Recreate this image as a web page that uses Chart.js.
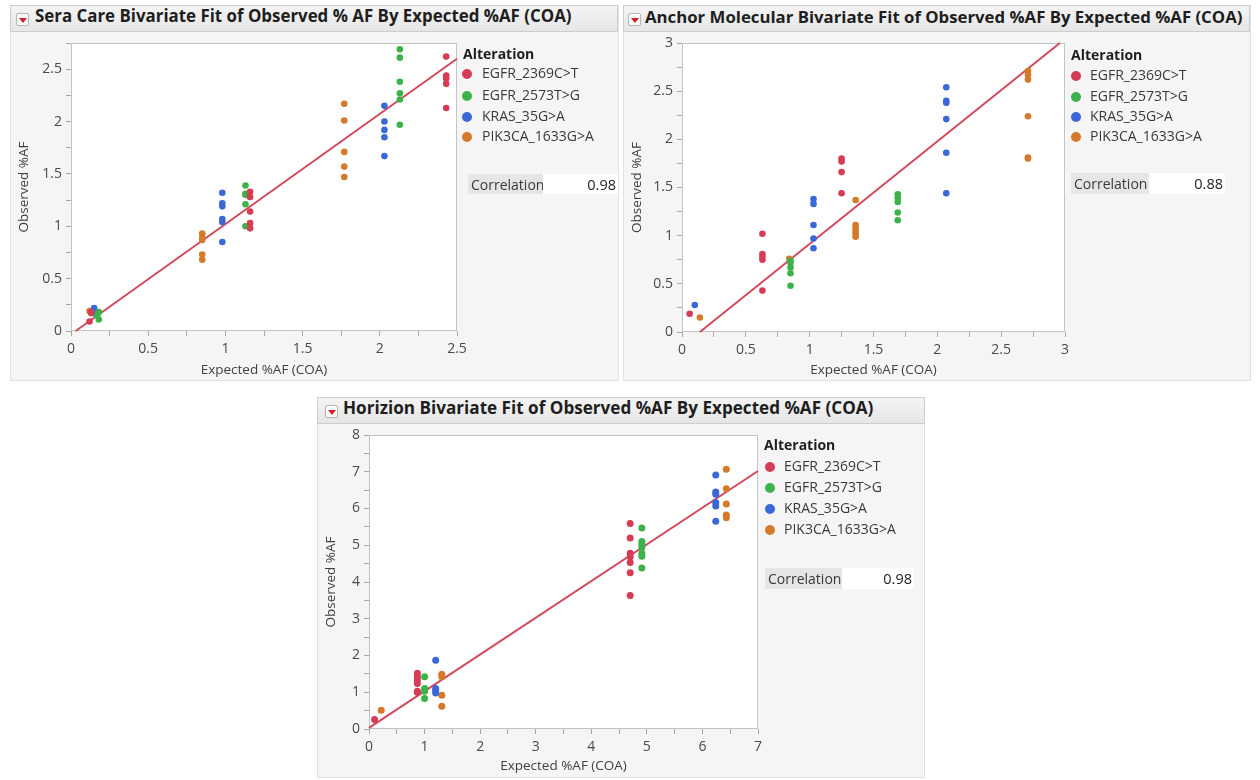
<!DOCTYPE html>
<html><head><meta charset="utf-8">
<script src="https://cdn.jsdelivr.net/npm/chart.js@4.4.1/dist/chart.umd.min.js"></script>
<style>
body{margin:0;background:#fff;width:1260px;height:780px;position:relative;overflow:hidden;font-family:"Open Sans","Noto Sans",sans-serif;}
.panel{position:absolute;background:#f5f5f5;box-sizing:border-box;border:1px solid #e2e2e2;}
.tbar{position:absolute;background:linear-gradient(#f4f4f4,#e6e6e6);border:1px solid #cdcdcd;box-sizing:border-box;}
.ttl{position:absolute;font-weight:bold;color:#1e1e1e;white-space:nowrap;line-height:1;}
.icon{position:absolute;width:13px;height:13px;background:#fafafa;border:1px solid #b5b5b5;box-sizing:border-box;border-radius:2px;}
.icon:after{content:"";position:absolute;left:2px;top:4px;border-left:4px solid transparent;border-right:4px solid transparent;border-top:5px solid #d21f2b;}
canvas{position:absolute;}
.txt{position:absolute;font-size:14px;color:#3a3a3a;white-space:nowrap;line-height:1;}
.hdr{font-weight:bold;color:#1e1e1e;font-size:14px;}
.dot{position:absolute;width:10px;height:10px;border-radius:50%;}
.clab{position:absolute;background:#e6e6e6;font-size:14px;color:#3a3a3a;box-sizing:border-box;padding-left:3px;display:flex;align-items:center;}
.cval{position:absolute;background:#fff;font-size:14.5px;color:#222;box-sizing:border-box;display:flex;align-items:center;justify-content:flex-end;padding-right:2px;}
</style>
</head><body>
<script>
// ---------- DATA ----------
const categories = ['EGFR_2369C>T', 'EGFR_2573T>G', 'KRAS_35G>A', 'PIK3CA_1633G>A'];

// Sera Care panel
const seraEGFR2369 = [[0.12,0.09],[0.13,0.18],[1.16,1.33],[1.16,1.28],[1.16,1.14],[1.16,1.03],[1.16,0.98],[2.43,2.62],[2.43,2.44],[2.43,2.41],[2.43,2.36],[2.43,2.13]];
const seraEGFR2573 = [[0.18,0.18],[0.18,0.11],[0.17,0.15],[1.13,1.39],[1.13,1.31],[1.13,1.30],[1.13,1.21],[1.13,1.00],[2.13,2.69],[2.13,2.61],[2.13,2.38],[2.13,2.27],[2.13,2.21],[2.13,1.97]];
const seraKRAS35 = [[0.15,0.22],[0.15,0.20],[0.15,0.17],[0.98,1.32],[0.98,1.22],[0.98,1.19],[0.98,1.07],[0.98,1.04],[0.98,0.85],[2.03,2.15],[2.03,2.00],[2.03,1.92],[2.03,1.85],[2.03,1.67]];
const seraPIK3CA = [[0.12,0.19],[0.13,0.17],[0.85,0.93],[0.85,0.89],[0.85,0.87],[0.85,0.73],[0.85,0.68],[1.77,2.17],[1.77,2.01],[1.77,1.71],[1.77,1.57],[1.77,1.47]];
const seraFit = [[0.03,0],[2.5,2.6]];
const seraCorrelation = '0.98';
const seraXTickLabels = ['0','0.5','1','1.5','2','2.5'];
const seraYTickLabels = ['0','0.5','1','1.5','2','2.5'];

// Anchor Molecular panel
const anchorEGFR2369 = [[0.06,0.19],[0.63,1.02],[0.63,0.81],[0.63,0.78],[0.63,0.75],[0.63,0.43],[1.25,1.80],[1.25,1.77],[1.25,1.66],[1.25,1.44]];
const anchorEGFR2573 = [[0.85,0.74],[0.85,0.72],[0.85,0.67],[0.85,0.61],[0.85,0.48],[1.69,1.43],[1.69,1.39],[1.69,1.35],[1.69,1.24],[1.69,1.16]];
const anchorKRAS35 = [[0.10,0.28],[1.03,1.38],[1.03,1.33],[1.03,1.11],[1.03,0.97],[1.03,0.87],[2.07,2.54],[2.07,2.40],[2.07,2.38],[2.07,2.21],[2.07,1.86],[2.07,1.44]];
const anchorPIK3CA = [[0.14,0.15],[0.84,0.76],[1.36,1.37],[1.36,1.11],[1.36,1.08],[1.36,1.05],[1.36,1.02],[1.36,0.99],[2.71,2.71],[2.71,2.67],[2.71,2.62],[2.71,2.24],[2.71,1.81],[2.71,1.80]];
const anchorFit = [[0.14,0],[2.96,3.0]];
const anchorCorrelation = '0.88';
const anchorXTickLabels = ['0','0.5','1','1.5','2','2.5','3'];
const anchorYTickLabels = ['0','0.5','1','1.5','2','2.5','3'];

// Horizion panel
const horizEGFR2369 = [[0.10,0.26],[0.87,1.52],[0.87,1.42],[0.87,1.33],[0.87,1.24],[0.87,1.03],[0.87,1.00],[4.70,5.59],[4.70,5.20],[4.70,4.78],[4.70,4.69],[4.70,4.53],[4.70,4.25],[4.70,3.63]];
const horizEGFR2573 = [[1.00,1.42],[1.00,1.10],[1.00,1.03],[1.00,0.83],[4.91,5.47],[4.91,5.10],[4.91,5.03],[4.91,4.94],[4.91,4.78],[4.91,4.70],[4.91,4.38]];
const horizKRAS35 = [[1.20,1.87],[1.20,1.10],[1.20,1.04],[1.20,0.98],[6.24,6.91],[6.24,6.45],[6.24,6.39],[6.24,6.16],[6.24,6.07],[6.24,5.65]];
const horizPIK3CA = [[0.22,0.51],[1.31,1.49],[1.31,1.42],[1.31,0.92],[1.31,0.62],[6.43,7.07],[6.43,6.54],[6.43,6.12],[6.43,5.82],[6.43,5.75]];
const horizFit = [[0,0.03],[7,7.02]];
const horizCorrelation = '0.98';
const horizXTickLabels = ['0','1','2','3','4','5','6','7'];
const horizYTickLabels = ['0','1','2','3','4','5','6','7','8'];

// ---------- STYLE / LAYOUT ----------
const seriesColors = ['#d63c55', '#3cb34a', '#3b68d8', '#d5792a'];
const fitColor = '#d4485c';

const panels = [
  { title:'Sera Care Bivariate Fit of Observed % AF By Expected %AF (COA)',
    box:[10,5,609,376], bar:[10,5,608,27], icon:[16,13], titleX:35, titleCY:19, titleW:537,
    canvas:[14,35,464,345], yW:57, xH:49, padR:21, padT:8,
    x:[0,2.5,0.25], y:[0,2.75,0.25], xl:seraXTickLabels, yl:seraYTickLabels,
    series:[seraEGFR2369,seraEGFR2573,seraKRAS35,seraPIK3CA], fit:seraFit, r:3.3,
    leg:{x:463, hy:55, dx:467, tx:482, ys:[74,96,117,137]},
    corr:{x:468, y:174, lw:75, vw:75, h:20, v:seraCorrelation} },
  { title:'Anchor Molecular Bivariate Fit of Observed %AF By Expected %AF (COA)',
    box:[623,5,628,376], bar:[623,5,627,27], icon:[628,13], titleX:645, titleCY:20, titleW:598,
    canvas:[627,35,445,345], yW:55, xH:48, padR:7, padT:8,
    x:[0,3,0.25], y:[0,3,0.25], xl:anchorXTickLabels, yl:anchorYTickLabels,
    series:[anchorEGFR2369,anchorEGFR2573,anchorKRAS35,anchorPIK3CA], fit:anchorFit, r:3.3,
    leg:{x:1071, hy:56, dx:1076, tx:1090, ys:[76,97,117,137]},
    corr:{x:1071, y:173, lw:78, vw:76, h:21, v:anchorCorrelation} },
  { title:'Horizion Bivariate Fit of Observed %AF By Expected %AF (COA)',
    box:[317,397,608,381], bar:[317,397,608,27], icon:[325,405], titleX:343, titleCY:411, titleW:531,
    canvas:[321,427,444,349], yW:48, xH:47, padR:7, padT:8,
    x:[0,7,0.5], y:[0,8,0.5], xl:horizXTickLabels, yl:horizYTickLabels,
    series:[horizEGFR2369,horizEGFR2573,horizKRAS35,horizPIK3CA], fit:horizFit, r:3.5,
    leg:{x:764, hy:446, dx:770, tx:784, ys:[467,488,509,530]},
    corr:{x:765, y:568, lw:77, vw:72, h:21, v:horizCorrelation} }
];

function el(tag, cls, css, text){
  const e=document.createElement(tag); if(cls) e.className=cls;
  Object.assign(e.style, css||{}); if(text!==undefined) e.textContent=text;
  document.body.appendChild(e); return e;
}
const mctx=document.createElement('canvas').getContext('2d');
const FONT='"Open Sans","Noto Sans",sans-serif';

function tickLabel(v, labels){
  for(const s of labels){ if(Math.abs(parseFloat(s)-v)<1e-6) return s; }
  return '';
}

const framePlugin = {
  id:'frame',
  beforeDraw(chart){
    const a=chart.chartArea, c=chart.ctx;
    c.save(); c.fillStyle='#ffffff'; c.fillRect(a.left,a.top,a.right-a.left,a.bottom-a.top); c.restore();
  },
  beforeDatasetsDraw(chart){
    const a=chart.chartArea, c=chart.ctx;
    c.save(); c.strokeStyle='#c4c4c4'; c.lineWidth=1;
    c.strokeRect(Math.round(a.left)+0.5,Math.round(a.top)+0.5,Math.round(a.right-a.left)-1,Math.round(a.bottom-a.top)-1);
    c.restore();
  }
};

panels.forEach(p=>{
  el('div','panel',{left:p.box[0]+'px',top:p.box[1]+'px',width:p.box[2]+'px',height:p.box[3]+'px'});
  el('div','tbar',{left:p.bar[0]+'px',top:p.bar[1]+'px',width:p.bar[2]+'px',height:p.bar[3]+'px'});
  el('div','icon',{left:p.icon[0]+'px',top:p.icon[1]+'px'});
  mctx.font='bold 15px '+FONT;
  const w=mctx.measureText(p.title).width;
  const fs=15*p.titleW/w;
  el('div','ttl',{left:p.titleX+'px',top:(p.titleCY-fs*0.68)+'px',fontSize:fs+'px',fontFamily:FONT},p.title);

  const cv=el('canvas','',{left:p.canvas[0]+'px',top:p.canvas[1]+'px',width:p.canvas[2]+'px',height:p.canvas[3]+'px'});
  cv.width=p.canvas[2]; cv.height=p.canvas[3];

  // legend (on top of canvas)
  el('div','txt hdr',{left:p.leg.x+'px',top:(p.leg.hy-8)+'px'},'Alteration');
  categories.forEach((c,i)=>{
    el('div','dot',{left:(p.leg.dx-5)+'px',top:(p.leg.ys[i]-5)+'px',background:seriesColors[i]});
    el('div','txt',{left:p.leg.tx+'px',top:(p.leg.ys[i]-8)+'px'},c);
  });
  el('div','clab',{left:p.corr.x+'px',top:p.corr.y+'px',width:p.corr.lw+'px',height:p.corr.h+'px'},'Correlation');
  el('div','cval',{left:(p.corr.x+p.corr.lw)+'px',top:p.corr.y+'px',width:p.corr.vw+'px',height:p.corr.h+'px'},p.corr.v);

  const datasets = p.series.map((s,i)=>({
    label:categories[i], type:'scatter',
    data:s.map(d=>({x:d[0],y:d[1]})),
    backgroundColor:seriesColors[i], borderColor:seriesColors[i], borderWidth:0,
    pointRadius:p.r, pointHoverRadius:p.r, order:1
  }));
  datasets.push({label:'fit', type:'line', data:p.fit.map(d=>({x:d[0],y:d[1]})),
    borderColor:fitColor, borderWidth:2, pointRadius:0, fill:false, order:2, clip:false});

  const tickFont={family:FONT,size:14};
  new Chart(cv,{
    data:{datasets},
    options:{
      responsive:false, animation:false, events:[],
      layout:{padding:{top:p.padT,right:p.padR,left:0,bottom:0}},
      plugins:{legend:{display:false},tooltip:{enabled:false}},
      scales:{
        x:{type:'linear',min:p.x[0],max:p.x[1],
          ticks:{stepSize:p.x[2],autoSkip:false,maxRotation:0,padding:5,font:tickFont,color:'#4a4a4a',
            callback:v=>tickLabel(v,p.xl)},
          grid:{drawOnChartArea:false,drawTicks:true,tickLength:5,color:'#a8a8a8'},
          border:{display:false},
          title:{display:true,text:'Expected %AF (COA)',font:{family:FONT,size:13.5},color:'#404040',padding:{top:0,bottom:2}},
          afterFit:s=>{s.height=p.xH; s.paddingLeft=0; s.paddingRight=0;}},
        y:{type:'linear',min:p.y[0],max:p.y[1],
          ticks:{stepSize:p.y[2],autoSkip:false,padding:4,font:tickFont,color:'#4a4a4a',
            callback:v=>tickLabel(v,p.yl)},
          grid:{drawOnChartArea:false,drawTicks:true,tickLength:5,color:'#a8a8a8'},
          border:{display:false},
          title:{display:true,text:'Observed %AF',font:{family:FONT,size:13.5},color:'#404040',padding:{top:2,bottom:0}},
          afterFit:s=>{s.width=p.yW; s.paddingTop=0; s.paddingBottom=0;}}
      }
    },
    plugins:[framePlugin]
  });
});
</script>
</body></html>
